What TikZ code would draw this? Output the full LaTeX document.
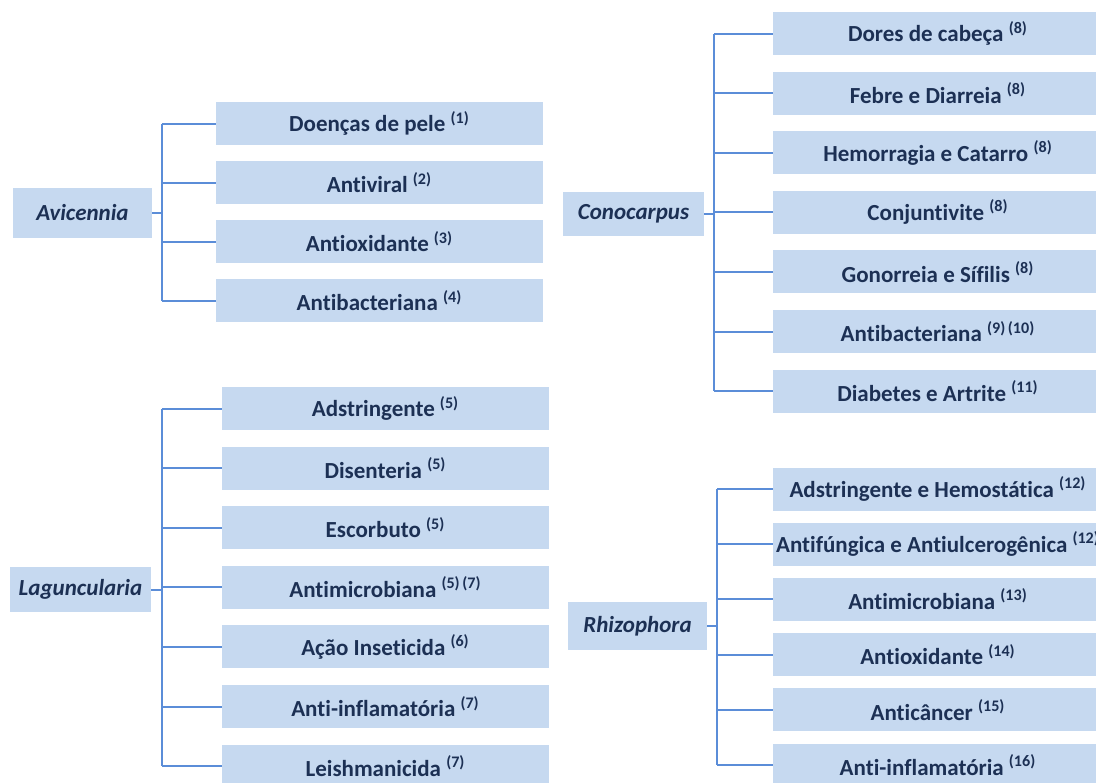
\documentclass[tikz,border=0pt]{standalone}
\usepackage{fontspec}
\setmainfont[Ligatures=NoCommon]{Carlito}
\usetikzlibrary{positioning}
\definecolor{boxblue}{RGB}{198,217,240}
\definecolor{lineblue}{RGB}{91,141,216}
\definecolor{textnavy}{RGB}{28,48,84}
\newcommand{\cit}[1]{\textsuperscript{#1}}

\tikzset{
  leaf/.style={rectangle, fill=boxblue, text=textnavy, font=\fontsize{11.5}{13}\selectfont\bfseries, minimum width=163.5pt, minimum height=21.5pt, inner sep=0pt, outer sep=0pt},
  wideleaf/.style={leaf, minimum width=165pt},
  genus/.style={rectangle, fill=boxblue, text=textnavy, font=\fontsize{11.5}{13}\selectfont\bfseries\itshape, inner sep=0pt, outer sep=0pt},
  link/.style={draw=lineblue, line width=1pt},
}

\begin{document}
\begin{tikzpicture}[x=0.5pt, y=-0.5pt]
\clip (0,0) rectangle (1096,782);
\fill[white] (0,0) rectangle (1096,782);

% Avicennia
\node[genus, minimum width=69.5pt, minimum height=25pt] (av) at (82.5,213) {Avicennia};
\begin{scope}[node distance=8pt]
\node[leaf] (av1) at (379.5,123.5) {Doenças de pele \cit{(1)}};
\node[leaf, below=of av1] (av2) {Antiviral \cit{(2)}};
\node[leaf, below=of av2] (av3) {Antioxidante \cit{(3)}};
\node[leaf, below=of av3] (av4) {Antibacteriana \cit{(4)}};
\end{scope}
\coordinate[right=5pt of av] (avb);
\draw[link] (av) -- (avb);
\draw[link] (avb |- av1) -- (avb |- av4);
\foreach \i in {1,...,4} \draw[link] (avb |- av\i) -- (av\i.west);

% Conocarpus
\node[genus, minimum width=70.5pt, minimum height=22pt] (co) at (633.5,214) {Conocarpus};
\begin{scope}[node distance=8.3pt]
\node[wideleaf] (co1) at (938,33.5) {Dores de cabeça \cit{(8)}};
\node[wideleaf, below=of co1] (co2) {Febre e Diarreia \cit{(8)}};
\node[wideleaf, below=of co2] (co3) {Hemorragia e Catarro \cit{(8)}};
\node[wideleaf, below=of co3] (co4) {Conjuntivite \cit{(8)}};
\node[wideleaf, below=of co4] (co5) {Gonorreia e Sífilis \cit{(8)}};
\node[wideleaf, below=of co5] (co6) {Antibacteriana \cit{(9)\,(10)}};
\node[wideleaf, below=of co6] (co7) {Diabetes e Artrite \cit{(11)}};
\end{scope}
\coordinate[right=5pt of co] (cob);
\draw[link] (co) -- (cob);
\draw[link] (cob |- co1) -- (cob |- co7);
\foreach \i in {1,...,7} \draw[link] (cob |- co\i) -- (co\i.west);

% Laguncularia
\node[genus, minimum width=70.5pt, minimum height=22.5pt] (la) at (80.5,589.5) {Laguncularia};
\begin{scope}[node distance=8.3pt]
\node[leaf] (la1) at (385.5,408.5) {Adstringente \cit{(5)}};
\node[leaf, below=of la1] (la2) {Disenteria \cit{(5)}};
\node[leaf, below=of la2] (la3) {Escorbuto \cit{(5)}};
\node[leaf, below=of la3] (la4) {Antimicrobiana \cit{(5)\,(7)}};
\node[leaf, below=of la4] (la5) {Ação Inseticida \cit{(6)}};
\node[leaf, below=of la5] (la6) {Anti-inflamatória \cit{(7)}};
\node[leaf, below=of la6] (la7) {Leishmanicida \cit{(7)}};
\end{scope}
\coordinate[right=5.5pt of la] (lab);
\draw[link] (la) -- (lab);
\draw[link] (lab |- la1) -- (lab |- la7);
\foreach \i in {1,...,7} \draw[link] (lab |- la\i) -- (la\i.west);

% Rhizophora
\node[genus, minimum width=69.5pt, minimum height=24pt] (rh) at (637.5,626) {Rhizophora};
\begin{scope}[node distance=6.1pt]
\node[wideleaf] (rh1) at (938,489) {Adstringente e Hemostática \cit{(12)}};
\node[wideleaf, below=of rh1] (rh2) {Antifúngica e Antiulcerogênica \cit{(12)}};
\node[wideleaf, below=of rh2] (rh3) {Antimicrobiana \cit{(13)}};
\node[wideleaf, below=of rh3] (rh4) {Antioxidante \cit{(14)}};
\node[wideleaf, below=of rh4] (rh5) {Anticâncer \cit{(15)}};
\node[wideleaf, below=of rh5] (rh6) {Anti-inflamatória \cit{(16)}};
\end{scope}
\coordinate[right=5pt of rh] (rhb);
\draw[link] (rh) -- (rhb);
\draw[link] (rhb |- rh1) -- (rhb |- rh6);
\foreach \i in {1,...,6} \draw[link] (rhb |- rh\i) -- (rh\i.west);
\end{tikzpicture}
\end{document}
